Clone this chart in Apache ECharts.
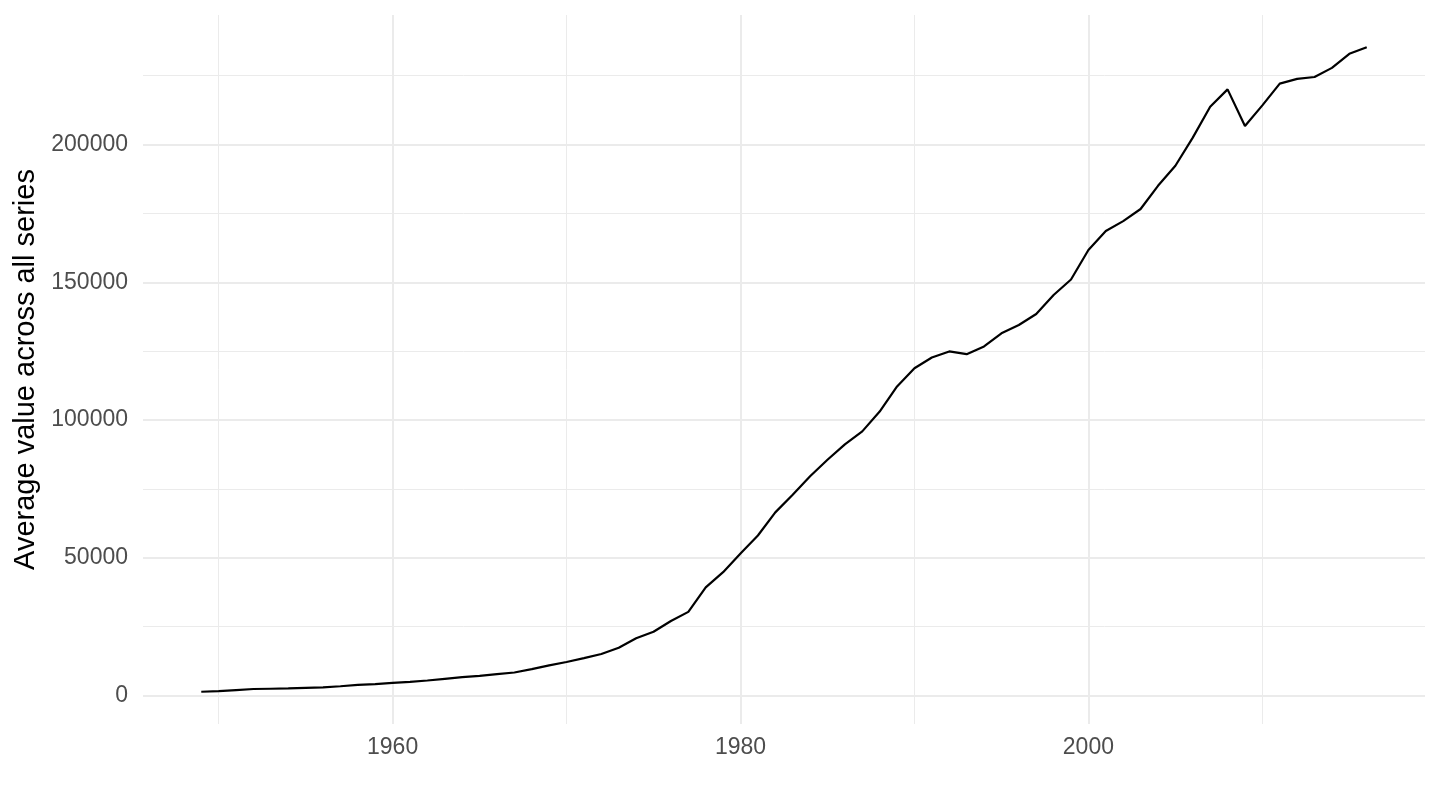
<!DOCTYPE html>
<html>
<head>
<meta charset="utf-8">
<script src="https://cdn.jsdelivr.net/npm/echarts@6/dist/echarts.min.js"></script>
<style>
  html, body { margin: 0; padding: 0; background: #fff; }
  #chart { width: 1440px; height: 810px; }
</style>
</head>
<body>
<div id="chart"></div>
<script>
const years = [
  1949, 1950, 1951, 1952, 1953, 1954, 1955, 1956, 1957, 1958,
  1959, 1960, 1961, 1962, 1963, 1964, 1965, 1966, 1967, 1968,
  1969, 1970, 1971, 1972, 1973, 1974, 1975, 1976, 1977, 1978,
  1979, 1980, 1981, 1982, 1983, 1984, 1985, 1986, 1987, 1988,
  1989, 1990, 1991, 1992, 1993, 1994, 1995, 1996, 1997, 1998,
  1999, 2000, 2001, 2002, 2003, 2004, 2005, 2006, 2007, 2008,
  2009, 2010, 2011, 2012, 2013, 2014, 2015, 2016,
];

const averageValue = [
  1400, 1600, 2000, 2400, 2500, 2600, 2800, 3000, 3400, 3900,
  4200, 4600, 5000, 5500, 6100, 6700, 7200, 7800, 8400, 9600,
  11000, 12200, 13600, 15100, 17400, 20800, 23200, 27100, 30400, 39300,
  44800, 51600, 58100, 66500, 72900, 79600, 85600, 91200, 95900, 103100,
  112200, 118800, 122700, 124900, 123900, 126700, 131500, 134500, 138500, 145400,
  151000, 161700, 168600, 172200, 176600, 185000, 192300, 202500, 213700, 220000,
  206700, 214200, 222100, 223800, 224500, 227800, 232900, 235300,
];

const xMajorTicks = [1960, 1980, 2000];
const xMinorTicks = [1950, 1970, 1990, 2010];
const yMajorTicks = [0, 50000, 100000, 150000, 200000];
const yMinorTicks = [25000, 75000, 125000, 175000, 225000];

const yTitle = "Average value across all series";

// ggplot-style 5% expansion around the data range
const expand = (lo, hi) => {
  const pad = (hi - lo) * 0.05;
  return [lo - pad, hi + pad];
};
const [xMin, xMax] = expand(Math.min(...years), Math.max(...years));
const [yMin, yMax] = expand(Math.min(...averageValue), Math.max(...averageValue));

const FONT = "'Liberation Sans', Arial, Helvetica, sans-serif";
const GRID_COLOR = "#ebebeb";
const plain = (v) => String(v);

const axisBase = (min, max) => ({
  type: "value",
  min: min,
  max: max,
  axisLine: { show: false },
});

const chart = echarts.init(document.getElementById("chart"), null, { renderer: "canvas" });

chart.setOption({
  animation: false,
  backgroundColor: "#ffffff",
  grid: { left: 143, right: 15, top: 15, bottom: 86 },
  xAxis: [
    Object.assign(axisBase(xMin, xMax), {
      position: "bottom",
      axisTick: { show: false, customValues: xMajorTicks },
      axisLabel: {
        customValues: xMajorTicks,
        formatter: plain,
        color: "#4d4d4d",
        fontFamily: FONT,
        fontSize: 23,
        margin: 12,
      },
      splitLine: { show: true, lineStyle: { color: GRID_COLOR, width: 2 } },
    }),
    Object.assign(axisBase(xMin, xMax), {
      position: "bottom",
      axisTick: { show: false, customValues: xMinorTicks },
      axisLabel: { show: false },
      splitLine: { show: true, lineStyle: { color: GRID_COLOR, width: 1 } },
    }),
  ],
  yAxis: [
    Object.assign(axisBase(yMin, yMax), {
      position: "left",
      name: yTitle,
      nameLocation: "middle",
      nameRotate: 90,
      nameGap: 99,
      nameTextStyle: { color: "#000000", fontFamily: FONT, fontSize: 29 },
      axisTick: { show: false, customValues: yMajorTicks },
      axisLabel: {
        customValues: yMajorTicks,
        formatter: plain,
        color: "#4d4d4d",
        fontFamily: FONT,
        fontSize: 23,
        margin: 15,
      },
      splitLine: { show: true, lineStyle: { color: GRID_COLOR, width: 2 } },
    }),
    Object.assign(axisBase(yMin, yMax), {
      position: "left",
      axisTick: { show: false, customValues: yMinorTicks },
      axisLabel: { show: false },
      splitLine: { show: true, lineStyle: { color: GRID_COLOR, width: 1 } },
    }),
  ],
  series: [
    {
      type: "line",
      xAxisIndex: 0,
      yAxisIndex: 0,
      data: years.map((y, i) => [y, averageValue[i]]),
      showSymbol: false,
      lineStyle: { color: "#000000", width: 2.2 },
      itemStyle: { color: "#000000" },
      silent: true,
    },
  ],
});
</script>
</body>
</html>
